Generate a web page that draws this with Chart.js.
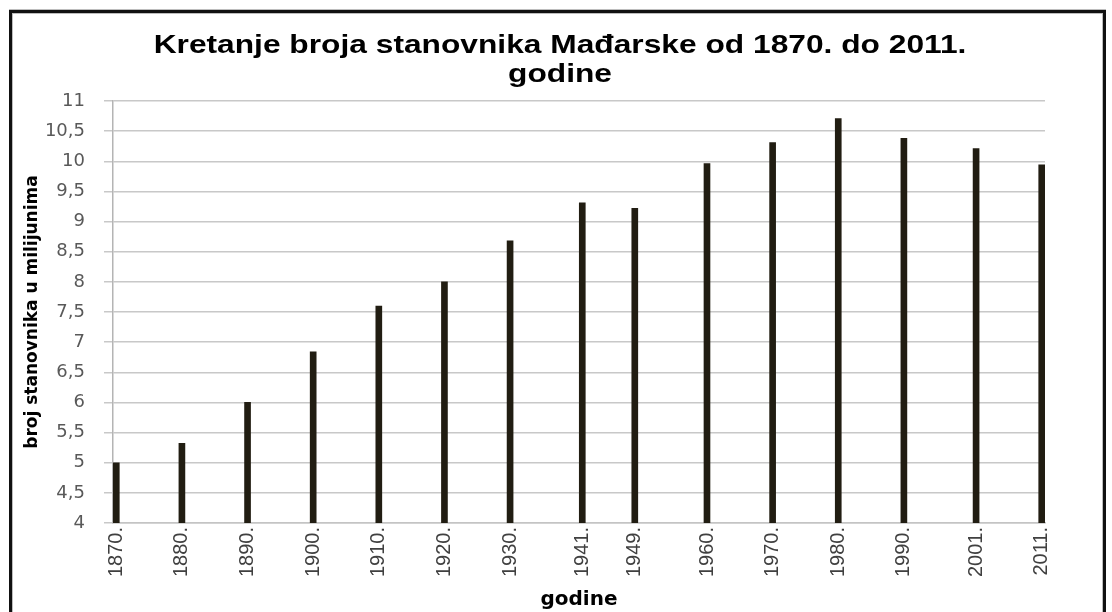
<!DOCTYPE html>
<html>
<head>
<meta charset="utf-8">
<script src="https://cdn.jsdelivr.net/npm/chart.js@4/dist/chart.umd.min.js"></script>
<style>
  body { margin: 0; background: #fff; }
  #frame {
    position: absolute; left: 9px; top: 10px; width: 1091px; height: 620px;
    border: 3px solid #111; border-bottom: none;
    box-shadow: inset 0 0 0 1px #bdbdbd, 0 -1px 0 #bdbdbd;
  }
  #mychart { position: absolute; left: 0; top: 0; }
</style>
</head>
<body>
<div id="frame"></div>
<canvas id="mychart" width="1112" height="612"></canvas>
<script>
var years = [1870, 1880, 1890, 1900, 1910, 1920, 1930, 1941, 1949, 1960, 1970, 1980, 1990, 2001, 2011];
var population = [5.0, 5.32, 6.0, 6.84, 7.6, 8.0, 8.68, 9.31, 9.22, 9.96, 10.31, 10.71, 10.38, 10.21, 9.94];
var chartTitle = ['Kretanje broja stanovnika Mađarske od 1870. do 2011.', 'godine'];
var yTitle = 'broj stanovnika u milijunima';
var xTitle = 'godine';

var points = [];
for (var i in years) {
	points.push({ x: years[i], y: population[i] });
}

// title drawn by hand, centred on the page and a bit wider like the original
var titlePlugin = {
	id: 'pageTitle',
	afterDraw: function(chart) {
		var c = chart.ctx;
		c.save();
		c.fillStyle = '#000';
		c.font = 'bold 26px "Liberation Sans"';
		c.textAlign = 'center';
		c.textBaseline = 'alphabetic';
		c.translate(560, 0);
		c.scale(1.22, 1);
		c.fillText(chartTitle[0], 0, 53);
		c.fillText(chartTitle[1], 0, 82);
		c.restore();
	}
};

var ctx = document.getElementById('mychart');

var barGraph = new Chart(ctx, {
	type: 'bar',
	data: {
		datasets: [
			{
				label: 'Stanovnici',
				backgroundColor: '#211d12',
				borderWidth: 0,
				barThickness: 6,
				data: points
			}
		]
	},
	options: {
		responsive: false,
		animation: false,
		layout: { padding: { left: 12, right: 67, top: 101, bottom: 0 } },
		plugins: {
			legend: { display: false },
			tooltip: { enabled: false },
			title: { display: false }
		},
		scales: {
			x: {
				type: 'linear',
				min: 1869.5,
				max: 2011.5,
				offset: false,
				afterBuildTicks: function(scale) {
					scale.ticks = years.map(function(v) { return { value: v }; });
				},
				afterFit: function(scale) { scale.height = 89; },
				ticks: {
					autoSkip: false,
					minRotation: 90,
					maxRotation: 90,
					padding: 4,
					color: '#404040',
					font: { family: 'Liberation Sans', size: 20 },
					callback: function(value) { return value + '.'; }
				},
				grid: { display: false, drawTicks: false },
				border: { display: true, color: '#c4c4c4', width: 1.5 },
				title: {
					display: true,
					text: xTitle,
					color: '#000',
					font: { family: 'DejaVu Sans', size: 20, weight: 'bold' },
					padding: { top: 0, bottom: 0 }
				}
			},
			y: {
				min: 4,
				max: 11,
				afterFit: function(scale) { scale.width = 101; },
				ticks: {
					stepSize: 0.5,
					padding: 19,
					color: '#595959',
					font: { family: 'DejaVu Sans', size: 18 },
					callback: function(value) { return String(value).replace('.', ','); }
				},
				grid: { color: '#c8c8c8', lineWidth: 1.5, tickLength: 9 },
				border: { display: true, color: '#b4b4b4', width: 1.5 },
				title: {
					display: true,
					text: yTitle,
					color: '#000',
					font: { family: 'DejaVu Sans', size: 17, weight: 'bold' },
					padding: { top: 10, bottom: 0 }
				}
			}
		}
	},
	plugins: [titlePlugin]
});
</script>
</body>
</html>
